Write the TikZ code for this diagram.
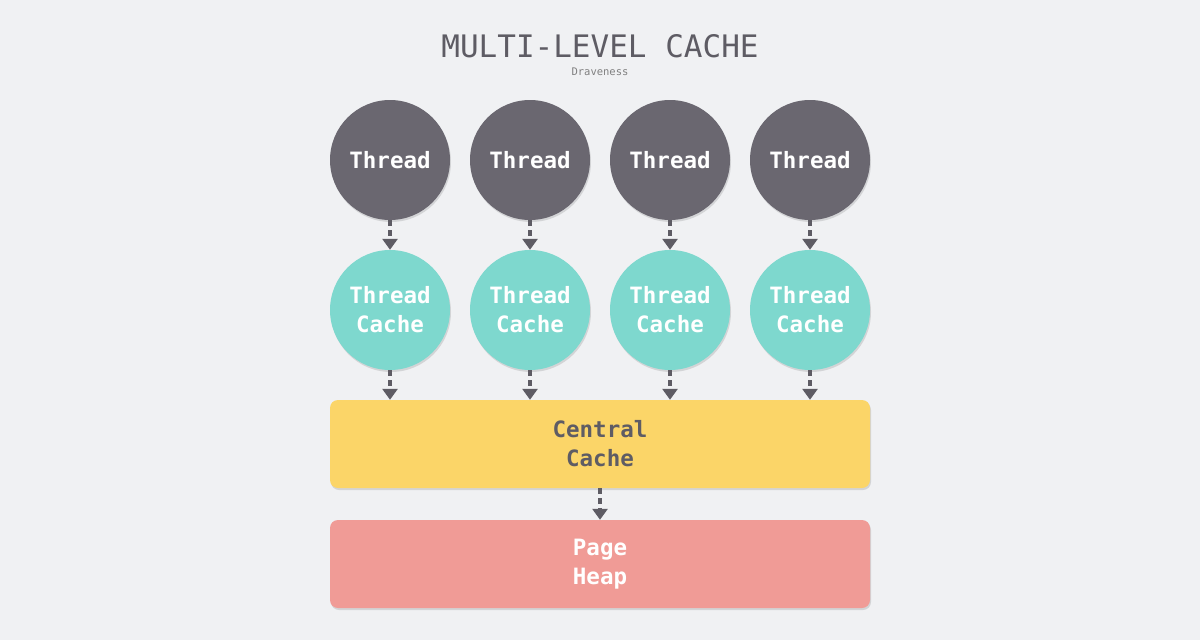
\documentclass[tikz,border=0pt]{standalone}
\usepackage{fontspec}
\setmonofont{DejaVu Sans Mono}
\usetikzlibrary{arrows.meta,shadows}
\definecolor{bg}{HTML}{F0F1F3}
\definecolor{thr}{HTML}{6A6770}
\definecolor{tc}{HTML}{7ED8CE}
\definecolor{cc}{HTML}{FBD568}
\definecolor{ph}{HTML}{F09B96}
\definecolor{ln}{HTML}{5E5C64}
\tikzset{
 thread/.style={circle,fill=thr,minimum size=120pt,inner sep=0,text=white,font=\ttfamily\bfseries\fontsize{22.5}{29}\selectfont,align=center,drop shadow={opacity=0.25,shadow xshift=1pt,shadow yshift=-2pt}},
 tcache/.style={thread,fill=tc},
 big/.style={rectangle,rounded corners=8pt,minimum width=540pt,minimum height=88pt,inner sep=0,font=\ttfamily\bfseries\fontsize{22.5}{29}\selectfont,align=center,drop shadow={opacity=0.25,shadow xshift=1pt,shadow yshift=-2pt}},
 arr/.style={draw=ln,line width=4pt,dash pattern=on 6pt off 4pt,-{Triangle[length=11pt,width=15pt]}}
}
\begin{document}
\begin{tikzpicture}[x=1pt,y=-1pt]
\fill[bg] (0,0) rectangle (1200,640);
\useasboundingbox (0,0) rectangle (1200,640);
\node[font=\ttfamily\fontsize{31}{34}\selectfont,text=ln] (title) at (600,46) {MULTI-LEVEL CACHE};
\node[font=\ttfamily\fontsize{10.5}{12}\selectfont,text=gray] (sub) at (600,72) {Draveness};
\foreach \i/\x in {1/390,2/530,3/670,4/810}{
 \node[thread] (t\i) at (\x,160) {Thread};
 \node[tcache] (c\i) at (\x,310) {Thread\\Cache};
 \draw[arr] (t\i.south) -- (c\i.north);
}
\node[big,fill=cc,text=ln] (central) at (600,444) {Central\\Cache};
\node[big,fill=ph,text=white] (heap) at (600,564) {Page\\Heap};
\foreach \i in {1,...,4}{
 \draw[arr] (c\i.south) -- (c\i.south |- central.north);
}
\draw[arr] (central.south) -- (heap.north);
\end{tikzpicture}
\end{document}
